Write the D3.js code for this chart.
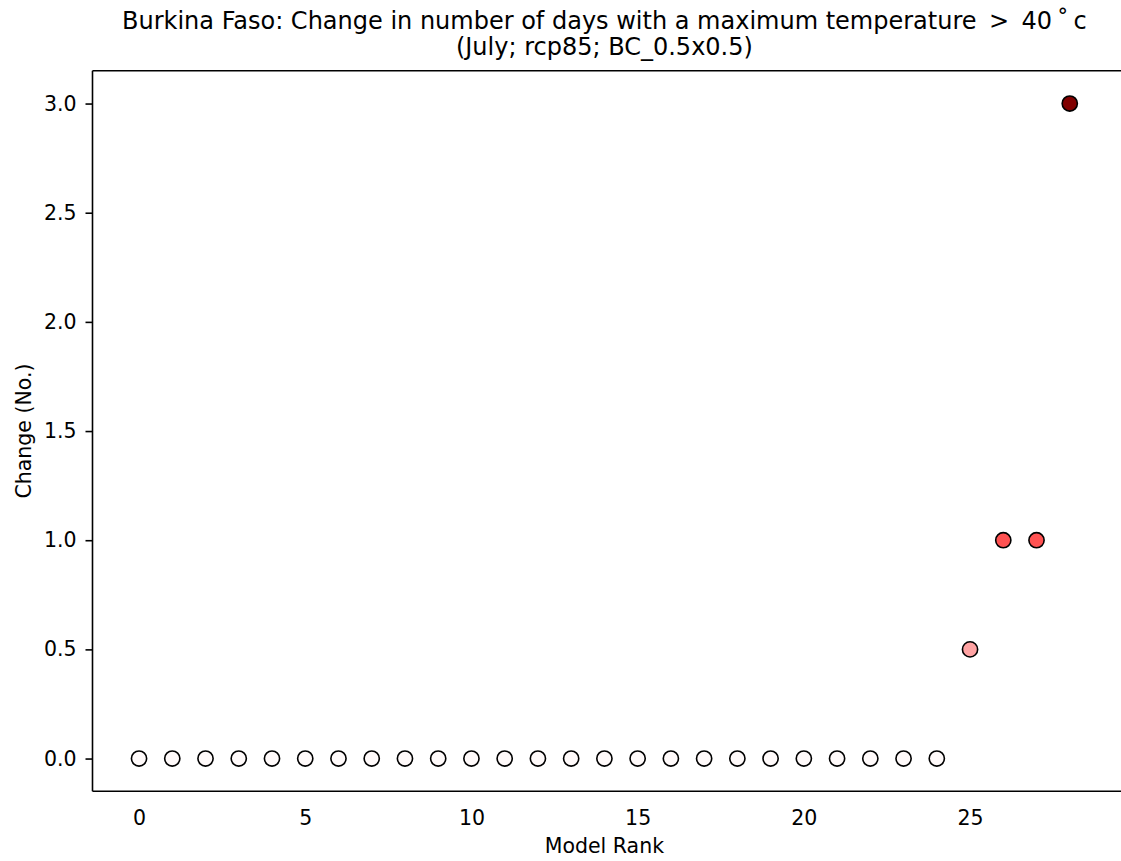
<!DOCTYPE html>
<html>
<head>
<meta charset="utf-8">
<script src="https://cdn.jsdelivr.net/npm/d3@7"></script>
<style>
  html, body { margin: 0; padding: 0; background: #fff; }
  svg { display: block; font-family: "DejaVu Sans", sans-serif; }
</style>
</head>
<body>
<svg id="chart" width="1121" height="861"></svg>
<script>
// Model ranks and the change in number of hot days for each model
const ranks = d3.range(0, 29);
const changes = [0, 0, 0, 0, 0, 0, 0, 0, 0, 0, 0, 0, 0, 0, 0, 0, 0, 0, 0, 0, 0, 0, 0, 0, 0, 0.5, 1.0, 1.0, 3.0];
const xTicks = [0, 5, 10, 15, 20, 25];
const yTicks = [0.0, 0.5, 1.0, 1.5, 2.0, 2.5, 3.0];
const titleLines = [
  "Burkina Faso: Change in number of days with a maximum temperature \u2009>\u2009 40\u2009\u02da\u2009c",
  "(July; rcp85; BC_0.5x0.5)"
];
// Fill colour for each change value
const colorStops = [0, 0.5, 1.0, 3.0];
const colorValues = ["#fffafa", "#ffa3a3", "#ff5252", "#800000"];

const svg = d3.select("#chart");
const plotLeft = 92.5, plotRight = 1116.3, plotTop = 70.8, plotBottom = 791.3;
const tickFont = 20.5;

const x = d3.scaleLinear().domain([-1.4, 29.4]).range([plotLeft, plotRight]);
const y = d3.scaleLinear().domain([-0.15, 3.15]).range([plotBottom, plotTop]);
const color = d3.scaleLinear().domain(colorStops).range(colorValues);

// Spines: left, top and bottom only
svg.append("line").attr("x1", plotLeft).attr("x2", plotLeft).attr("y1", plotTop).attr("y2", plotBottom)
  .attr("stroke", "#000").attr("stroke-width", 1.6);
svg.append("line").attr("x1", plotLeft).attr("x2", 1121).attr("y1", plotTop).attr("y2", plotTop)
  .attr("stroke", "#000").attr("stroke-width", 1.6);
svg.append("line").attr("x1", plotLeft).attr("x2", 1121).attr("y1", plotBottom).attr("y2", plotBottom)
  .attr("stroke", "#000").attr("stroke-width", 1.6);

// Y axis ticks and labels
const yAxis = d3.axisLeft(y).tickValues(yTicks).tickFormat(d3.format(".1f")).tickSizeOuter(0).tickSize(7).tickPadding(9);
const gy = svg.append("g").attr("transform", `translate(${plotLeft},0)`).call(yAxis);
gy.select(".domain").remove();
gy.selectAll(".tick line").attr("stroke", "#000").attr("stroke-width", 1.6);
gy.selectAll(".tick text").attr("font-size", tickFont).attr("fill", "#000").attr("font-family", "DejaVu Sans");

// X axis labels (no tick marks)
const xAxis = d3.axisBottom(x).tickValues(xTicks).tickFormat(d3.format("d")).tickSize(0).tickPadding(19);
const gx = svg.append("g").attr("transform", `translate(0,${plotBottom})`).call(xAxis);
gx.select(".domain").remove();
gx.selectAll(".tick text").attr("font-size", tickFont).attr("fill", "#000").attr("font-family", "DejaVu Sans");

// Axis titles
svg.append("text").attr("x", (plotLeft + plotRight) / 2).attr("y", 853)
  .attr("text-anchor", "middle").attr("font-size", tickFont).text("Model Rank");
svg.append("text").attr("transform", `translate(30.5,${(plotTop + plotBottom) / 2}) rotate(-90)`)
  .attr("text-anchor", "middle").attr("font-size", tickFont).text("Change (No.)");

// Title
svg.selectAll("text.title").data(titleLines).enter().append("text")
  .attr("class", "title")
  .attr("x", (plotLeft + plotRight) / 2)
  .attr("y", (d, i) => 28.5 + i * 26)
  .attr("text-anchor", "middle").attr("font-size", 24)
  .text(d => d);

// Points
svg.append("g").selectAll("circle").data(ranks).enter().append("circle")
  .attr("cx", d => x(d))
  .attr("cy", (d, i) => y(changes[i]))
  .attr("r", 7.6)
  .attr("fill", (d, i) => color(changes[i]))
  .attr("stroke", "#000").attr("stroke-width", 1.6);
</script>
</body>
</html>
